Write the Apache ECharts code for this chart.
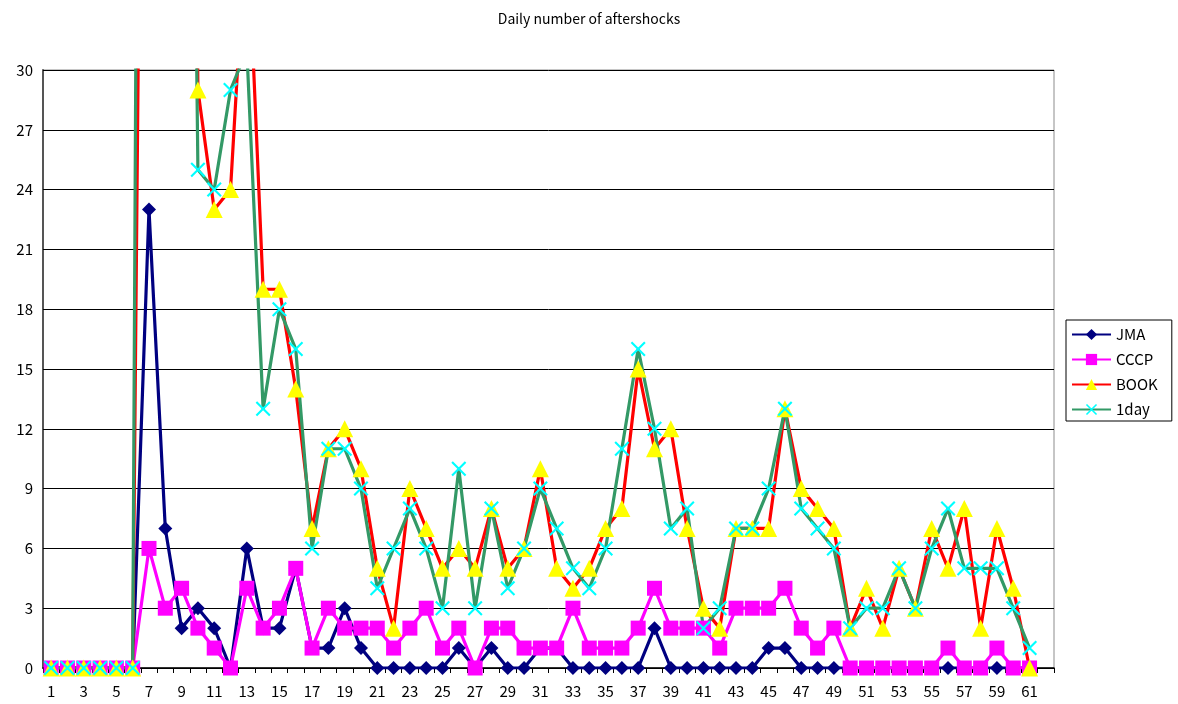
<!DOCTYPE html>
<html>
<head>
<meta charset="utf-8">
<title>Daily number of aftershocks</title>
<script src="https://cdn.jsdelivr.net/npm/echarts@6/dist/echarts.min.js"></script>
<style>
  html, body { margin: 0; padding: 0; background: #ffffff; }
  #chart { width: 1178px; height: 704px; }
</style>
</head>
<body>
<div id="chart"></div>
<script>
// Day numbers along the horizontal axis (last slot is an empty day)
const days = ['1','2','3','4','5','6','7','8','9','10','11','12','13','14','15','16','17','18','19','20',
  '21','22','23','24','25','26','27','28','29','30','31','32','33','34','35','36','37','38','39','40',
  '41','42','43','44','45','46','47','48','49','50','51','52','53','54','55','56','57','58','59','60',
  '61','62'];

// Daily counts per catalogue
const jma = [0,0,0,0,0,0,23,7,2,3,2,0,6,2,2,5,1,1,3,1,0,0,0,0,0,1,0,1,0,0,1,1,0,0,0,0,0,2,0,0,
  0,0,0,0,1,1,0,0,0,0,0,0,0,0,0,0,0,0,0,0,0,null];
const cccp = [0,0,0,0,0,0,6,3,4,2,1,0,4,2,3,5,1,3,2,2,2,1,2,3,1,2,0,2,2,1,1,1,3,1,1,1,2,4,2,2,
  2,1,3,3,3,4,2,1,2,0,0,0,0,0,0,1,0,0,1,0,0,null];
const book = [0,0,0,0,0,0,90,130,120,29,23,24,38,19,19,14,7,11,12,10,5,2,9,7,5,6,5,8,5,6,10,5,4,5,7,8,
  15,11,12,7,3,2,7,7,7,13,9,8,7,2,4,2,5,3,7,5,8,2,7,4,0,null];
const oneDay = [0,0,0,0,0,0,160,140,95,25,24,29,31,13,18,16,6,11,11,9,4,6,8,6,3,10,3,8,4,6,9,7,5,4,6,11,
  16,12,7,8,2,3,7,7,9,13,8,7,6,2,3,3,5,3,6,8,5,5,5,3,1,null];

// Vertical axis range
const yMin = 0;
const yMax = 30;
const yStep = 3;

const FONT = '"Noto Sans CJK JP", "DejaVu Sans", sans-serif';

// Thin "X" marker built from two crossing bars
const crossPath = 'path://M0,1L1,0L10,9L9,10Z M9,0L10,1L1,10L0,9Z';

const chart = echarts.init(document.getElementById('chart'), null, { renderer: 'canvas' });

function lineSeries(name, data, lineColor, symbol, symbolSize, markerColor) {
  return {
    name: name,
    type: 'line',
    data: data,
    symbol: symbol,
    symbolSize: symbolSize,
    showAllSymbol: true,
    clip: true,
    connectNulls: false,
    lineStyle: { color: lineColor, width: 3.2 },
    itemStyle: { color: markerColor, borderWidth: 0 },
    emphasis: { disabled: true }
  };
}

chart.setOption({
  animation: false,
  backgroundColor: '#ffffff',
  textStyle: { fontFamily: FONT },
  title: {
    text: 'Daily number of aftershocks',
    left: 'center',
    top: 7,
    textStyle: { fontFamily: FONT, fontSize: 14, fontWeight: 'normal', color: '#000000' }
  },
  legend: {
    orient: 'vertical',
    left: 1066,
    top: 320,
    padding: [7, 14, 4, 5],
    itemGap: 10,
    itemWidth: 39,
    itemHeight: 14,
    borderColor: '#000000',
    borderWidth: 1,
    backgroundColor: '#ffffff',
    textStyle: { fontFamily: FONT, fontSize: 15, color: '#000000' },
    data: ['JMA', 'CCCP', 'BOOK', '1day']
  },
  grid: {
    left: 43,
    right: 124,
    top: 70,
    bottom: 36,
    show: true,
    borderColor: '#8c8c8c',
    borderWidth: 1
  },
  xAxis: {
    type: 'category',
    data: days,
    boundaryGap: true,
    axisLine: { show: true, lineStyle: { color: '#000000', width: 1.5 } },
    axisTick: { show: true, interval: 0, length: 5, inside: false, lineStyle: { color: '#000000' } },
    axisLabel: { interval: 1, margin: 16, fontSize: 15, color: '#000000', fontFamily: FONT },
    splitLine: { show: false }
  },
  yAxis: {
    type: 'value',
    min: yMin,
    max: yMax,
    interval: yStep,
    axisLine: { show: true, lineStyle: { color: '#555555', width: 2 } },
    axisTick: { show: true, inside: true, length: 5, lineStyle: { color: '#000000' } },
    axisLabel: { margin: 10, fontSize: 15, color: '#000000', fontFamily: FONT },
    splitLine: { show: true, lineStyle: { color: '#000000', width: 1 } }
  },
  series: [
    lineSeries('JMA', jma, '#000080', 'diamond', 14, '#000080'),
    lineSeries('CCCP', cccp, '#ff00ff', 'rect', 15, '#ff00ff'),
    lineSeries('BOOK', book, '#ff0000', 'triangle', 17, '#ffff00'),
    lineSeries('1day', oneDay, '#339966', crossPath, 15, '#00ffff')
  ]
});
</script>
</body>
</html>
